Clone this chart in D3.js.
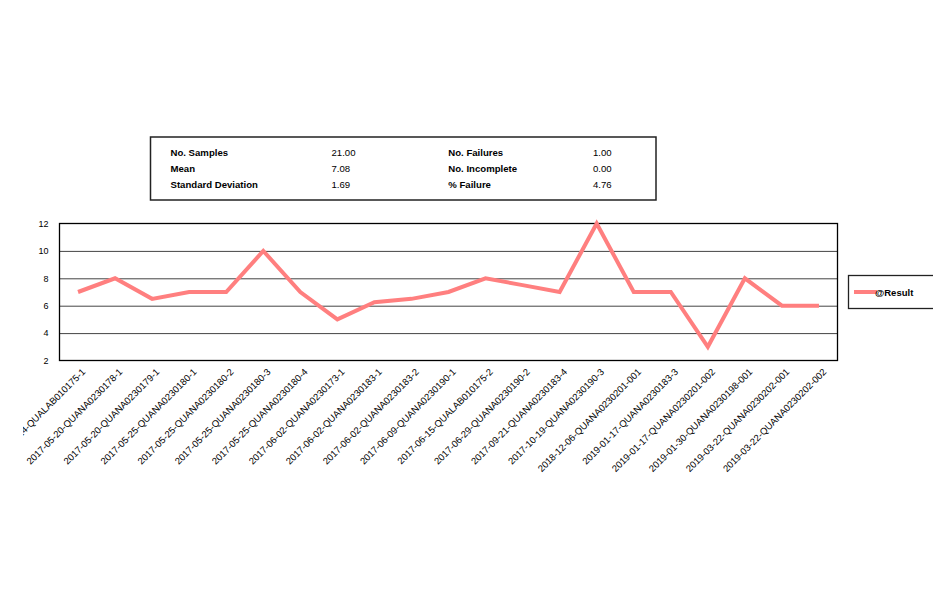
<!DOCTYPE html>
<html>
<head>
<meta charset="utf-8">
<script src="https://cdn.jsdelivr.net/npm/d3@7"></script>
<style>
  html, body { margin: 0; padding: 0; background: #fff; }
  svg { display: block; font-family: "Liberation Sans", Arial, sans-serif; }
</style>
</head>
<body>
<svg id="chart" width="947" height="612"></svg>
<script>
// ---- Data ----
const categories = [
  "2017-05-14-QUALAB010175-1",
  "2017-05-20-QUANA0230178-1",
  "2017-05-20-QUANA0230179-1",
  "2017-05-25-QUANA0230180-1",
  "2017-05-25-QUANA0230180-2",
  "2017-05-25-QUANA0230180-3",
  "2017-05-25-QUANA0230180-4",
  "2017-06-02-QUANA0230173-1",
  "2017-06-02-QUANA0230183-1",
  "2017-06-02-QUANA0230183-2",
  "2017-06-09-QUANA0230190-1",
  "2017-06-15-QUALAB010175-2",
  "2017-06-29-QUANA0230190-2",
  "2017-09-21-QUANA0230183-4",
  "2017-10-19-QUANA0230190-3",
  "2018-12-06-QUANA0230201-001",
  "2019-01-17-QUANA0230183-3",
  "2019-01-17-QUANA0230201-002",
  "2019-01-30-QUANA0230198-001",
  "2019-03-22-QUANA0230202-001",
  "2019-03-22-QUANA0230202-002"
];
const resultValues = [7, 8, 6.5, 7, 7, 10, 7, 5, 6.25, 6.5, 7, 8, 7.5, 7, 12, 7, 7, 3, 8, 6, 6];
const yTicks = [2, 4, 6, 8, 10, 12];
const seriesName = "@Result";
const statsLeftLabels = ["No. Samples", "Mean", "Standard Deviation"];
const statsLeftValues = ["21.00", "7.08", "1.69"];
const statsRightLabels = ["No. Failures", "No. Incomplete", "% Failure"];
const statsRightValues = ["1.00", "0.00", "4.76"];

// ---- Layout ----
const svg = d3.select("#chart");
const plot = { left: 59.5, right: 837.5, top: 223.5, bottom: 360.5 };
const lineColor = "#FF7F7F";

svg.append("defs").append("clipPath").attr("id", "frame")
  .append("rect").attr("x", 23).attr("y", 0).attr("width", 910).attr("height", 612);
const root = svg.append("g").attr("clip-path", "url(#frame)");

const x = d3.scaleBand().domain(categories).range([plot.left, plot.right]).padding(0);
const xc = d => x(d) + x.bandwidth() / 2;
const y = d3.scaleLinear().domain([2, 12]).range([plot.bottom, plot.top]);

// ---- Stats box ----
const stats = root.append("g");
stats.append("rect")
  .attr("x", 150.5).attr("y", 137).attr("width", 505.5).attr("height", 63)
  .attr("fill", "none").attr("stroke", "#222").attr("stroke-width", 1.5);
const rowY = [156, 171.8, 187.5];
const fs = "9.6px";
statsLeftLabels.forEach((t, i) => {
  stats.append("text").attr("x", 170.5).attr("y", rowY[i]).attr("font-size", fs)
    .attr("font-weight", "bold").text(t);
});
statsLeftValues.forEach((t, i) => {
  stats.append("text").attr("x", 331.5).attr("y", rowY[i]).attr("font-size", fs).text(t);
});
statsRightLabels.forEach((t, i) => {
  stats.append("text").attr("x", 448.3).attr("y", rowY[i]).attr("font-size", fs)
    .attr("font-weight", "bold").text(t);
});
statsRightValues.forEach((t, i) => {
  stats.append("text").attr("x", 593).attr("y", rowY[i]).attr("font-size", fs).text(t);
});

// ---- Gridlines ----
const grid = root.append("g")
  .attr("transform", `translate(${plot.left},0)`)
  .call(d3.axisLeft(y).tickValues(yTicks.slice(1, -1)).tickSize(-(plot.right - plot.left)).tickFormat(""));
grid.select(".domain").remove();
grid.selectAll(".tick line").attr("stroke", "#444").attr("stroke-width", 1);

// ---- Y axis labels ----
const yAxis = root.append("g")
  .attr("transform", `translate(${plot.left},0)`)
  .call(d3.axisLeft(y).tickValues(yTicks).tickSize(0).tickPadding(11).tickFormat(d3.format("d")));
yAxis.select(".domain").remove();
yAxis.selectAll("text").attr("font-size", "9px").attr("fill", "#000")
  .attr("font-family", '"Liberation Sans", Arial, sans-serif');

// ---- Plot border ----
root.append("rect")
  .attr("x", plot.left).attr("y", plot.top)
  .attr("width", plot.right - plot.left).attr("height", plot.bottom - plot.top)
  .attr("fill", "none").attr("stroke", "#000").attr("stroke-width", 1.3);

// ---- X axis labels ----
const xAxis = root.append("g")
  .attr("transform", `translate(0,${plot.bottom})`)
  .call(d3.axisBottom(x).tickSize(0));
xAxis.select(".domain").remove();
xAxis.selectAll("text")
  .attr("font-size", "9.5px").attr("fill", "#000")
  .attr("font-family", '"Liberation Sans", Arial, sans-serif')
  .attr("text-anchor", "end")
  .attr("dy", null).attr("y", 0)
  .attr("transform", "translate(8,12) rotate(-45)");

// ---- Line ----
const line = d3.line().x((d, i) => xc(categories[i])).y(d => y(d));
root.append("path")
  .datum(resultValues)
  .attr("d", line)
  .attr("fill", "none")
  .attr("stroke", lineColor)
  .attr("stroke-width", 4)
  .attr("stroke-linejoin", "miter");

// ---- Legend ----
const lg = root.append("g");
lg.append("rect").attr("x", 848.5).attr("y", 275.5).attr("width", 100).attr("height", 33)
  .attr("fill", "#fff").attr("stroke", "#222").attr("stroke-width", 1.3);
lg.append("line").attr("x1", 854).attr("x2", 877).attr("y1", 292).attr("y2", 292)
  .attr("stroke", lineColor).attr("stroke-width", 4);
lg.append("text").attr("x", 875).attr("y", 295.5).attr("font-size", "9.5px")
  .attr("font-weight", "bold").text(seriesName);
</script>
</body>
</html>
